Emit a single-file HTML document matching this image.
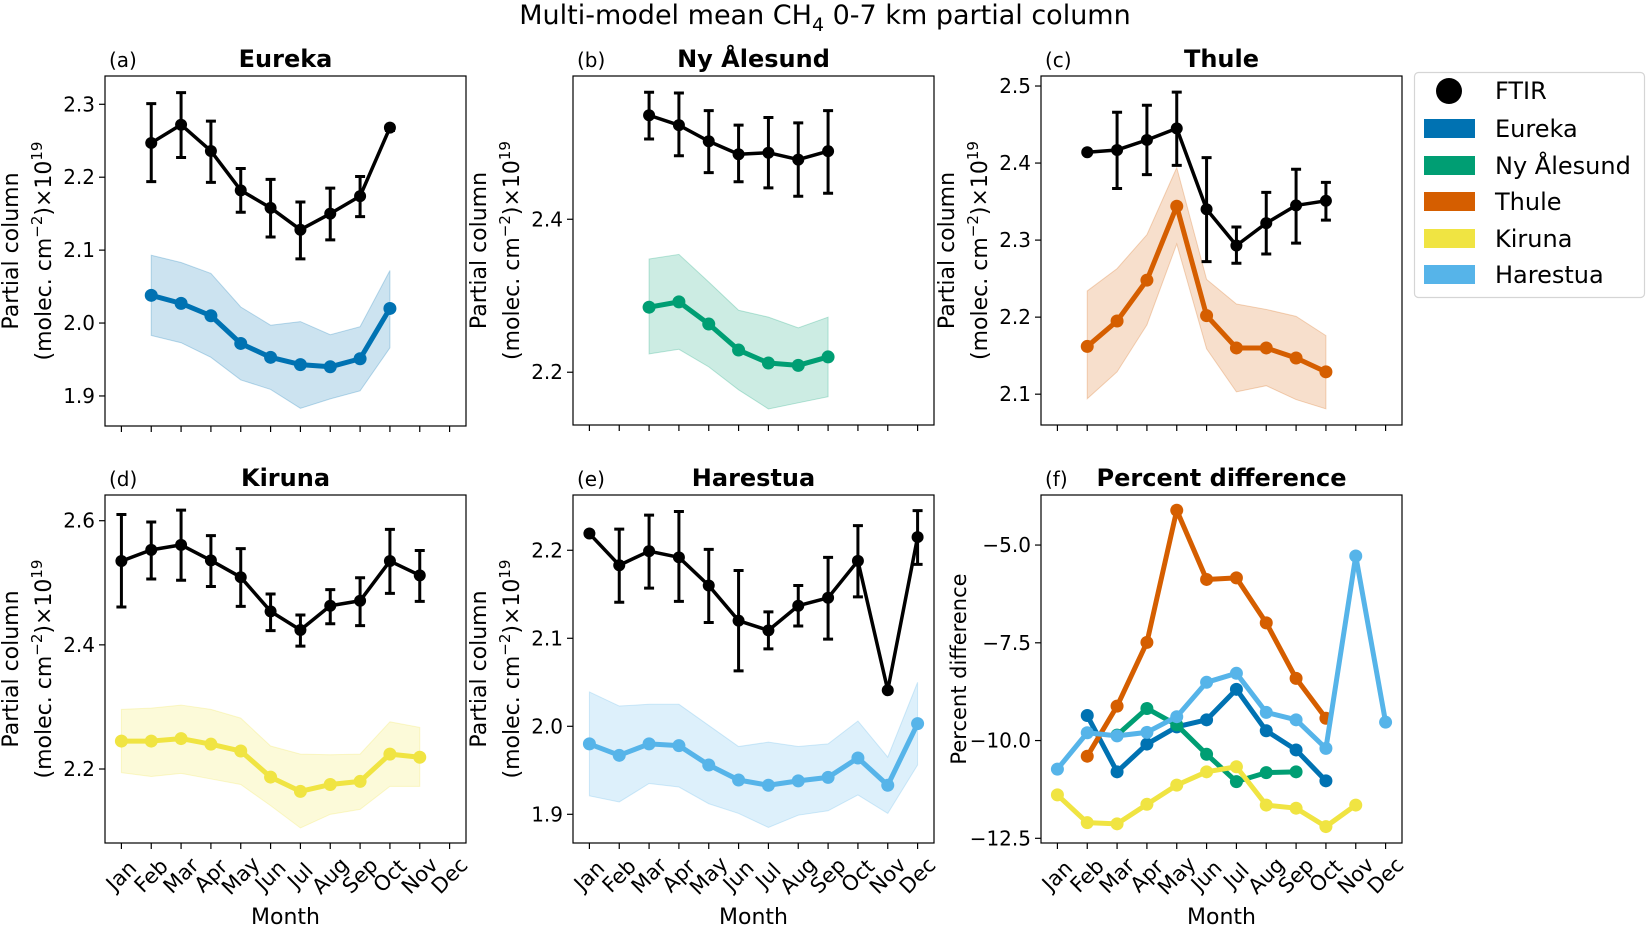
<!DOCTYPE html>
<html><head><meta charset="utf-8"><style>
html,body{margin:0;padding:0;background:#fff;}
svg{display:block;font-family:"DejaVu Sans","Liberation Sans",sans-serif;}
</style></head><body>
<svg id="fig" width="1647" height="926" viewBox="0 0 1647 926" xmlns="http://www.w3.org/2000/svg">
<text x="825" y="24" text-anchor="middle" font-size="27">Multi-model mean CH<tspan font-size="19" dy="7">4</tspan><tspan dy="-7"> 0-7 km partial column</tspan></text>
<g>
<rect x="1414.5" y="72.5" width="230" height="225" rx="4" fill="#fff" stroke="#d5d5d5" stroke-width="1.2"/>
<circle cx="1449" cy="91" r="13" fill="#000"/>
<text x="1495" y="99" font-size="24">FTIR</text>
<rect x="1424" y="119" width="51" height="19" fill="#0072B2"/>
<text x="1495" y="137" font-size="24">Eureka</text>
<rect x="1424" y="156" width="51" height="19" fill="#009E73"/>
<text x="1495" y="174" font-size="24">Ny Ålesund</text>
<rect x="1424" y="192" width="51" height="19" fill="#D55E00"/>
<text x="1495" y="210" font-size="24">Thule</text>
<rect x="1424" y="229" width="51" height="19" fill="#F0E442"/>
<text x="1495" y="247" font-size="24">Kiruna</text>
<rect x="1424" y="265" width="51" height="19" fill="#56B4E9"/>
<text x="1495" y="283" font-size="24">Harestua</text>
</g>
</svg>
<script>
const monthLabels=["Jan","Feb","Mar","Apr","May","Jun","Jul","Aug","Sep","Oct","Nov","Dec"];
// Eureka (a)
const eurekaMonths=[2,3,4,5,6,7,8,9,10];
const eurekaFtir=[2.247,2.272,2.236,2.182,2.158,2.128,2.150,2.174,2.268];
const eurekaFtirHi=[2.301,2.316,2.277,2.212,2.197,2.166,2.185,2.201,2.271];
const eurekaFtirLo=[2.194,2.227,2.193,2.152,2.118,2.088,2.114,2.146,2.264];
const eurekaModel=[2.038,2.027,2.010,1.972,1.953,1.943,1.940,1.951,2.020];
const eurekaModelHi=[2.093,2.083,2.068,2.022,1.997,2.002,1.984,1.995,2.072];
const eurekaModelLo=[1.983,1.973,1.953,1.922,1.909,1.883,1.896,1.907,1.966];
const eurekaTicks=[1.9,2.0,2.1,2.2,2.3];
// Ny Alesund (b)
const nyMonths=[3,4,5,6,7,8,9];
const nyFtir=[2.536,2.523,2.502,2.485,2.487,2.478,2.489];
const nyFtirHi=[2.566,2.565,2.542,2.523,2.533,2.526,2.542];
const nyFtirLo=[2.505,2.483,2.461,2.449,2.441,2.430,2.434];
const nyModel=[2.285,2.292,2.263,2.229,2.212,2.209,2.220];
const nyModelHi=[2.348,2.354,2.318,2.281,2.272,2.258,2.272];
const nyModelLo=[2.224,2.230,2.207,2.177,2.152,2.160,2.168];
const nyTicks=[2.2,2.4];
// Thule (c)
const thuleMonths=[2,3,4,5,6,7,8,9,10];
const thuleFtir=[2.414,2.417,2.430,2.445,2.340,2.293,2.322,2.345,2.351];
const thuleFtirHi=[2.416,2.466,2.475,2.492,2.407,2.317,2.362,2.392,2.375];
const thuleFtirLo=[2.412,2.367,2.385,2.397,2.272,2.270,2.282,2.296,2.326];
const thuleModel=[2.162,2.195,2.248,2.344,2.202,2.160,2.160,2.147,2.129];
const thuleModelHi=[2.234,2.263,2.307,2.394,2.249,2.217,2.210,2.201,2.176];
const thuleModelLo=[2.094,2.129,2.190,2.295,2.159,2.103,2.111,2.093,2.081];
const thuleTicks=[2.1,2.2,2.3,2.4,2.5];
// Kiruna (d)
const kirunaMonths=[1,2,3,4,5,6,7,8,9,10,11];
const kirunaFtir=[2.535,2.553,2.561,2.536,2.509,2.454,2.424,2.463,2.471,2.535,2.512];
const kirunaFtirHi=[2.610,2.598,2.617,2.576,2.555,2.482,2.448,2.489,2.508,2.586,2.552];
const kirunaFtirLo=[2.461,2.506,2.504,2.494,2.462,2.423,2.398,2.434,2.431,2.483,2.470];
const kirunaModel=[2.245,2.245,2.249,2.240,2.229,2.187,2.164,2.175,2.180,2.224,2.219];
const kirunaModelHi=[2.296,2.298,2.303,2.296,2.282,2.237,2.224,2.223,2.224,2.276,2.267];
const kirunaModelLo=[2.194,2.188,2.193,2.184,2.175,2.141,2.105,2.127,2.135,2.172,2.172];
const kirunaTicks=[2.2,2.4,2.6];
// Harestua (e)
const harMonths=[1,2,3,4,5,6,7,8,9,10,11,12];
const harFtir=[2.219,2.183,2.199,2.192,2.160,2.120,2.109,2.137,2.146,2.188,2.041,2.215];
const harFtirHi=[2.219,2.224,2.240,2.244,2.201,2.177,2.130,2.160,2.192,2.228,2.041,2.245];
const harFtirLo=[2.219,2.141,2.157,2.142,2.118,2.063,2.088,2.114,2.099,2.147,2.041,2.184];
const harModel=[1.980,1.967,1.980,1.978,1.956,1.939,1.933,1.938,1.942,1.964,1.933,2.003];
const harModelHi=[2.039,2.023,2.025,2.025,2.001,1.977,1.982,1.977,1.980,2.006,1.965,2.050];
const harModelLo=[1.921,1.914,1.935,1.931,1.912,1.901,1.885,1.899,1.904,1.922,1.901,1.956];
const harTicks=[1.9,2.0,2.1,2.2];
// Percent difference (f)
const pdEurekaMonths=[2,3,4,5,6,7,8,9,10];
const pdEureka=[-9.36,-10.80,-10.09,-9.65,-9.47,-8.69,-9.75,-10.24,-11.03];
const pdNyMonths=[3,4,5,6,7,8,9];
const pdNy=[-9.86,-9.18,-9.60,-10.35,-11.05,-10.82,-10.80];
const pdThuleMonths=[2,3,4,5,6,7,8,9,10];
const pdThule=[-10.40,-9.12,-7.49,-4.11,-5.88,-5.84,-6.99,-8.41,-9.43];
const pdKirunaMonths=[1,2,3,4,5,6,7,8,9,10,11];
const pdKiruna=[-11.39,-12.10,-12.13,-11.63,-11.14,-10.80,-10.67,-11.65,-11.73,-12.20,-11.65];
const pdHarMonths=[1,2,3,4,5,6,7,8,9,10,11,12];
const pdHar=[-10.73,-9.80,-9.88,-9.79,-9.39,-8.51,-8.28,-9.28,-9.47,-10.20,-5.28,-9.53];
const pdTicks=[-12.5,-10.0,-7.5,-5.0];

const NS="http://www.w3.org/2000/svg";
const svg=document.getElementById('fig');
function mk(tag,attrs,parent){const e=document.createElementNS(NS,tag);for(const k in attrs)e.setAttribute(k,attrs[k]);(parent||svg).appendChild(e);return e;}

function panel(cfg){
  const g=mk('g',{});
  
  
  const L=cfg.L,T=cfg.T,W=cfg.W,H=cfg.H;
  const xs=m=>L+(m-0.45)*W/12.1;
  const ys=v=>T+(cfg.ymax-v)*H/(cfg.ymax-cfg.ymin);
  (cfg.series||[]).forEach(s=>{
    if(s.hi){
      let d='M'+s.months.map((m,i)=>xs(m)+','+ys(s.hi[i])).join('L');
      for(let i=s.months.length-1;i>=0;i--)d+='L'+xs(s.months[i])+','+ys(s.lo[i]);
      const b=mk('path',{d:d+'Z',fill:s.color,'fill-opacity':0.2,stroke:s.color,'stroke-opacity':0.25,'stroke-width':1},g);
      
      
    }
    const ln=mk('polyline',{points:s.months.map((m,i)=>xs(m)+','+ys(s.vals[i])).join(' '),fill:'none',stroke:s.color,'stroke-width':s.lw,'stroke-linejoin':'round'},g);
    
    
    s.months.forEach((m,i)=>{
      const c=mk('circle',{cx:xs(m),cy:ys(s.vals[i]),r:s.r,fill:s.color},g);
      
      
    });
  });
  if(cfg.ftir){
    const f=cfg.ftir;
    const ln=mk('polyline',{points:f.months.map((m,i)=>xs(m)+','+ys(f.vals[i])).join(' '),fill:'none',stroke:'#000','stroke-width':3.5,'stroke-linejoin':'round'},g);
    
    
    f.months.forEach((m,i)=>{
      const x=xs(m),y1=ys(f.hi[i]),y2=ys(f.lo[i]);
      if(Math.abs(y2-y1)>1){
        const e=mk('path',{d:`M${x},${y1}V${y2}M${x-5},${y1}H${x+5}M${x-5},${y2}H${x+5}`,stroke:'#000','stroke-width':3,fill:'none'},g);
        
        
      }
      const c=mk('circle',{cx:x,cy:ys(f.vals[i]),r:6,fill:'#000'},g);
      
      
    });
  }
  const fr=mk('rect',{x:L,y:T,width:W,height:H,fill:'none',stroke:'#000','stroke-width':1.2},g);
  
  
  cfg.ticks.forEach(t=>{
    const y=ys(t);
    mk('line',{x1:L-6,x2:L,y1:y,y2:y,stroke:'#000','stroke-width':1.2},g);
    const tx=mk('text',{x:L-10,y:y+7,'text-anchor':'end','font-size':20},g);
    tx.textContent=cfg.fmt?cfg.fmt(t):t.toFixed(1);
    
    
  });
  monthLabels.forEach((lab,i)=>{
    const x=xs(i+1);
    mk('line',{x1:x,x2:x,y1:T+H,y2:T+H+6,stroke:'#000','stroke-width':1.2},g);
    if(cfg.xlabels){
      const w=lab.length*12.6;
      const half=(w+21)*0.707/2;
      const cy=T+H+12+half, cx=x;
      const tx=mk('text',{x:cx,y:cy+7,'text-anchor':'middle','font-size':21,transform:`rotate(-45 ${cx} ${cy})`},g);
      tx.textContent=lab;
      
      
    }
  });
  if(cfg.xlabels){
    const t=mk('text',{x:L+W/2,y:924,'text-anchor':'middle','font-size':22},g);
    t.textContent='Month';
    
    
  }
  const ti=mk('text',{x:L+W/2,y:T-9,'text-anchor':'middle','font-size':24,'font-weight':'bold'},g);
  ti.textContent=cfg.title;
  
  
  const pl=mk('text',{x:L+4,y:T-9,'font-size':20},g);
  pl.textContent=cfg.letter;
  
  
  const cy=T+H/2;
  if(cfg.pct){
    const a=L-83;
    const yl=mk('text',{x:a,y:cy+8,'text-anchor':'middle','font-size':21,transform:`rotate(-90 ${a} ${cy})`},g);
    yl.textContent='Percent difference';
    
    
  } else {
    const a=L-95, b=L-62;
    const y1=mk('text',{x:a,y:cy+8,'text-anchor':'middle','font-size':22,transform:`rotate(-90 ${a} ${cy})`},g);
    y1.textContent='Partial column';
    
    
    const y2=mk('text',{x:b,y:cy+8,'text-anchor':'middle','font-size':22,transform:`rotate(-90 ${b} ${cy})`},g);
    y2.innerHTML='(molec. cm<tspan font-size="15" dy="-9">−2</tspan><tspan dy="9">)×10</tspan><tspan font-size="15" dy="-9">19</tspan>';
    
    
  }
}
const W=361;
function std(name,L,T,H,title,letter,ymin,ymax,ticks,months,ft,fh,fl,mv,mh,ml,color,xl){
  panel({name,L,T,W,H,title,letter,ymin,ymax,ticks,xlabels:xl,
    series:[{name:name+'-model',months,vals:mv,hi:mh,lo:ml,color,lw:5,r:6.5}],
    ftir:{months,vals:ft,hi:fh,lo:fl}});
}
std('eureka',105,76,350,'Eureka','(a)',1.8588,2.3388,eurekaTicks,eurekaMonths,eurekaFtir,eurekaFtirHi,eurekaFtirLo,eurekaModel,eurekaModelHi,eurekaModelLo,'#0072B2',false);
std('ny-alesund',573,76,349,'Ny Ålesund','(b)',2.131,2.5873,nyTicks,nyMonths,nyFtir,nyFtirHi,nyFtirLo,nyModel,nyModelHi,nyModelLo,'#009E73',false);
std('thule',1041,76,349,'Thule','(c)',2.060,2.513,thuleTicks,thuleMonths,thuleFtir,thuleFtirHi,thuleFtirLo,thuleModel,thuleModelHi,thuleModelLo,'#D55E00',false);
std('kiruna',105,495,348,'Kiruna','(d)',2.0808,2.6414,kirunaTicks,kirunaMonths,kirunaFtir,kirunaFtirHi,kirunaFtirLo,kirunaModel,kirunaModelHi,kirunaModelLo,'#F0E442',true);
std('harestua',573,495,348,'Harestua','(e)',1.8674,2.2628,harTicks,harMonths,harFtir,harFtirHi,harFtirLo,harModel,harModelHi,harModelLo,'#56B4E9',true);
panel({name:'percent-difference',L:1041,T:495,W,H:348,title:'Percent difference',letter:'(f)',ymin:-12.62,ymax:-3.72,ticks:pdTicks,xlabels:true,pct:true,
  fmt:t=>t.toFixed(1).replace('-','−'),
  series:[
    {name:'pd-eureka',months:pdEurekaMonths,vals:pdEureka,color:'#0072B2',lw:5,r:6.5},
    {name:'pd-ny-alesund',months:pdNyMonths,vals:pdNy,color:'#009E73',lw:5,r:6.5},
    {name:'pd-thule',months:pdThuleMonths,vals:pdThule,color:'#D55E00',lw:5,r:6.5},
    {name:'pd-kiruna',months:pdKirunaMonths,vals:pdKiruna,color:'#F0E442',lw:5,r:6.5},
    {name:'pd-harestua',months:pdHarMonths,vals:pdHar,color:'#56B4E9',lw:5,r:6.5}
  ]});
</script>
</body></html>
